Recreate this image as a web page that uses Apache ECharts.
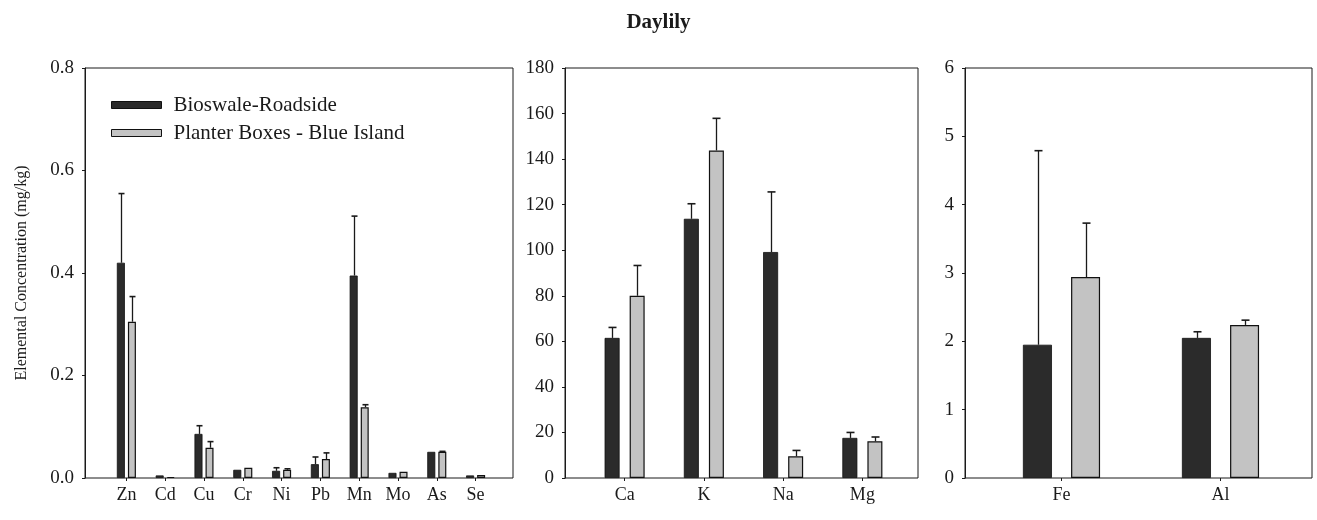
<!DOCTYPE html>
<html>
<head>
<meta charset="utf-8">
<script src="https://cdn.jsdelivr.net/npm/echarts@6/dist/echarts.min.js"></script>
<style>
  html, body { margin: 0; padding: 0; background: #fff; }
  #chart { width: 1317px; height: 520px; }
</style>
</head>
<body>
<div id="chart"></div>
<script>
// panel 1 - trace elements
const traceCats = ['Zn', 'Cd', 'Cu', 'Cr', 'Ni', 'Pb', 'Mn', 'Mo', 'As', 'Se']
const traceBioswale = [0.42, 0.005, 0.086, 0.016, 0.014, 0.027, 0.395, 0.010, 0.051, 0.005]
const traceBioswaleSd = [0.135, 0, 0.016, 0, 0.006, 0.014, 0.116, 0, 0, 0]
const tracePlanter = [0.305, 0.002, 0.059, 0.020, 0.016, 0.037, 0.138, 0.012, 0.051, 0.006]
const tracePlanterSd = [0.049, 0, 0.012, 0, 0.002, 0.012, 0.005, 0, 0.001, 0]

// panel 2 - major cations
const majorCats = ['Ca', 'K', 'Na', 'Mg']
const majorBioswale = [61.5, 113.8, 99.2, 17.6]
const majorBioswaleSd = [4.6, 6.6, 26.4, 2.4]
const majorPlanter = [80.0, 143.8, 9.5, 16.1]
const majorPlanterSd = [13.3, 14.1, 2.6, 1.9]

// panel 3
const metalCats = ['Fe', 'Al']
const metalBioswale = [1.95, 2.05]
const metalBioswaleSd = [2.84, 0.09]
const metalPlanter = [2.94, 2.24]
const metalPlanterSd = [0.79, 0.07]

const names = ['Bioswale-Roadside', 'Planter Boxes - Blue Island']
const font = 'Liberation Serif'
const ink = '#1a1a1a'

const myChart = echarts.init(document.getElementById('chart'))

// frame grids (box + y axis) and data grids (category positions)
const panels = [
  {frame: {left: 85, right: 804}, data: {left: 107, right: 822}, max: 0.8, interval: 0.2, dec: 1,
   cats: traceCats, a: traceBioswale, aSd: traceBioswaleSd, b: tracePlanter, bSd: tracePlanterSd,
   barWidth: 8, gap: 3, cap: 3},
  {frame: {left: 565, right: 399}, data: {left: 585, right: 415}, max: 180, interval: 20, dec: 0,
   cats: majorCats, a: majorBioswale, aSd: majorBioswaleSd, b: majorPlanter, bSd: majorPlanterSd,
   barWidth: 15, gap: 10, cap: 4},
  {frame: {left: 965, right: 5}, data: {left: 982, right: 17}, max: 6, interval: 1, dec: 0,
   cats: metalCats, a: metalBioswale, aSd: metalBioswaleSd, b: metalPlanter, bSd: metalPlanterSd,
   barWidth: 29, gap: 19, cap: 4}
]

const grid = [], xAxis = [], yAxis = [], series = []

function errRender(offset, cap) {
  return function (params, api) {
    const i = api.value(0)
    const base = api.coord([i, api.value(1)])
    const top = api.coord([i, api.value(1) + api.value(2)])
    const cx = Math.round(base[0] + offset) + 0.5
    return {
      type: 'group',
      children: [
        {type: 'line', shape: {x1: cx, y1: base[1], x2: cx, y2: top[1]}, style: {stroke: ink, lineWidth: 1.3}},
        {type: 'line', shape: {x1: cx - cap, y1: top[1], x2: cx + cap, y2: top[1]}, style: {stroke: ink, lineWidth: 1.6}}
      ]
    }
  }
}

panels.forEach((p, k) => {
  const fi = k * 2, di = k * 2 + 1
  grid.push({left: p.frame.left, right: p.frame.right, top: 68, bottom: 42,
    show: true, borderColor: ink, borderWidth: 1, backgroundColor: 'transparent'})
  grid.push({left: p.data.left, right: p.data.right, top: 68, bottom: 42})

  xAxis.push({gridIndex: fi, type: 'value', min: 0, max: 1, show: false})
  xAxis.push({gridIndex: di, type: 'category', data: p.cats,
    axisLine: {show: false},
    axisTick: {show: true, alignWithLabel: true, length: 3, lineStyle: {color: ink}},
    axisLabel: {color: ink, fontFamily: font, fontSize: 18, margin: 8}})

  yAxis.push({gridIndex: fi, type: 'value', min: 0, max: p.max, interval: p.interval,
    axisLine: {show: true, lineStyle: {color: ink, width: 1}},
    axisTick: {show: true, length: 3, lineStyle: {color: ink}},
    splitLine: {show: false},
    axisLabel: {color: ink, fontFamily: font, fontSize: 19, margin: 11,
      formatter: v => v.toFixed(p.dec)},
    name: k === 0 ? 'Elemental Concentration (mg/kg)' : '',
    nameLocation: 'middle', nameGap: 55,
    nameTextStyle: {color: ink, fontFamily: font, fontSize: 16}})
  yAxis.push({gridIndex: di, type: 'value', min: 0, max: p.max, show: false})

  const off = (p.barWidth + p.gap) / 2
  const gapPct = Math.round(p.gap / p.barWidth * 100) + '%'
  series.push({name: names[0], type: 'bar', xAxisIndex: di, yAxisIndex: di,
    barWidth: p.barWidth, barGap: gapPct, data: p.a,
    itemStyle: {color: '#2b2b2b', borderColor: '#111', borderWidth: 0.8}})
  series.push({name: names[1], type: 'bar', xAxisIndex: di, yAxisIndex: di,
    barWidth: p.barWidth, barGap: gapPct, data: p.b,
    itemStyle: {color: '#c3c3c3', borderColor: '#111', borderWidth: 1.2}})

  const errA = p.a.map((v, i) => [i, v, p.aSd[i]]).filter(d => d[2] > 0)
  const errB = p.b.map((v, i) => [i, v, p.bSd[i]]).filter(d => d[2] > 0)
  series.push({type: 'custom', xAxisIndex: di, yAxisIndex: di, z: 5, silent: true,
    renderItem: errRender(-off, p.cap), data: errA})
  series.push({type: 'custom', xAxisIndex: di, yAxisIndex: di, z: 5, silent: true,
    renderItem: errRender(off, p.cap), data: errB})
})

const option = {
  backgroundColor: '#fff',
  animation: false,
  title: {
    text: 'Daylily', left: 'center', top: 7,
    textStyle: {color: ink, fontFamily: font, fontSize: 21, fontWeight: 'bold'}
  },
  legend: {
    data: [
      {name: names[0], itemStyle: {color: '#2b2b2b', borderColor: '#111', borderWidth: 1}},
      {name: names[1], itemStyle: {color: '#c3c3c3', borderColor: '#111', borderWidth: 1}}
    ],
    orient: 'vertical', left: 106, top: 89,
    icon: 'rect', itemWidth: 50, itemHeight: 7, itemGap: 6,
    textStyle: {color: ink, fontFamily: font, fontSize: 21, lineHeight: 22, padding: [0, 0, 0, 7]}
  },
  grid, xAxis, yAxis, series
}

myChart.setOption(option)
</script>
</body>
</html>
